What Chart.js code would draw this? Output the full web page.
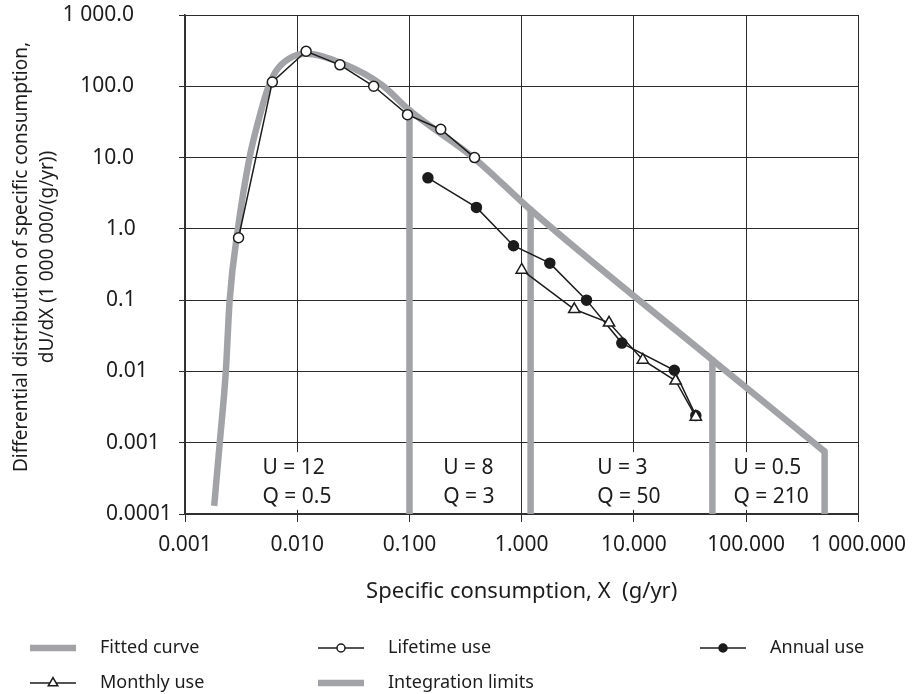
<!DOCTYPE html>
<html>
<head>
<meta charset="utf-8">
<script src="https://cdn.jsdelivr.net/npm/chart.js@4.4.1/dist/chart.umd.min.js"></script>
<style>
  html, body { margin: 0; padding: 0; background: #fff; }
  #wrap { position: relative; width: 916px; height: 694px; }
</style>
</head>
<body>
<div id="wrap"><canvas id="consumptionChart" width="916" height="694"></canvas></div>
<script>
// axis ticks
const xTickValues = [0.001, 0.01, 0.1, 1, 10, 100, 1000];
const xTickLabels = ['0.001', '0.010', '0.100', '1.000', '10.000', '100.000', '1 000.000'];
const yTickValues = [0.0001, 0.001, 0.01, 0.1, 1, 10, 100, 1000];
const yTickLabels = ['0.0001', '0.001', '0.01', '0.1', '1.0', '10.0', '100.0', '1 000.0'];

// fitted distribution
const fittedX = [0.00182, 0.00204, 0.00231, 0.0025, 0.00296, 0.00376, 0.0046, 0.0055, 0.0065, 0.0085, 0.012, 0.025, 0.057, 0.1, 0.386, 1.2, 50, 500];
const fittedY = [0.00013, 0.001, 0.01, 0.1, 1, 10, 37, 95, 165, 245, 285, 210, 104, 46, 9.5, 1.85, 0.0145, 0.00075];

// survey series
const lifetimeX = [0.003, 0.006, 0.012, 0.024, 0.048, 0.096, 0.19, 0.38];
const lifetimeY = [0.75, 115, 310, 200, 100, 40, 25, 10];
const annualX = [0.146, 0.395, 0.845, 1.78, 3.78, 7.8, 22.9, 35.6];
const annualY = [5.2, 2.0, 0.58, 0.33, 0.10, 0.025, 0.0104, 0.0024];
const monthlyX = [1.0, 2.94, 6.0, 12.0, 23.5, 35.6];
const monthlyY = [0.265, 0.0745, 0.048, 0.0145, 0.0074, 0.0023];

// integration limits (x, and the curve value where each one stops)
const limitX = [0.1, 1.2, 50, 500];
const limitTopY = [46, 1.85, 0.0145, 0.00075];

// band labels
const bandX = [0.0049, 0.2, 4.7, 77];
const bandU = ['U = 12', 'U = 8', 'U = 3', 'U = 0.5'];
const bandQ = ['Q = 0.5', 'Q = 3', 'Q = 50', 'Q = 210'];
const bandRowY = [0.00044, 0.000174];

const FONT = '"Noto Sans", "Open Sans", sans-serif';
const GREY = '#a2a3a7';
const INK = '#1c1c1c';

const zip = (xs, ys) => xs.map((x, i) => ({ x: x, y: ys[i] }));

const limitPoints = [];
limitX.forEach((x, i) => {
  limitPoints.push({ x: x, y: 0.0001 });
  limitPoints.push({ x: x, y: limitTopY[i] });
  limitPoints.push({ x: x, y: null });
});

// white boxes with the U / Q text in the lowest decade
const bandPlugin = {
  id: 'bands',
  beforeDatasetsDraw(chart) {
    const ctx = chart.ctx;
    const xs = chart.scales.x, ys = chart.scales.y;
    ctx.save();
    ctx.font = '21px ' + FONT;
    ctx.textBaseline = 'middle';
    ctx.textAlign = 'left';
    bandX.forEach((bx, i) => {
      const left = xs.getPixelForValue(bx);
      const y1 = ys.getPixelForValue(bandRowY[0]);
      const y2 = ys.getPixelForValue(bandRowY[1]);
      const w = Math.max(ctx.measureText(bandU[i]).width, ctx.measureText(bandQ[i]).width);
      ctx.fillStyle = '#fff';
      ctx.fillRect(left - 12, y1 - 16, w + 24, y2 - y1 + 29);
      ctx.fillStyle = INK;
      ctx.fillText(bandU[i], left, y1);
      ctx.fillText(bandQ[i], left, y2);
    });
    ctx.restore();
  }
};

// y tick labels, axis titles and legend
const textPlugin = {
  id: 'texts',
  afterDraw(chart) {
    const ctx = chart.ctx;
    const ys = chart.scales.y;
    const area = chart.chartArea;
    ctx.save();
    ctx.fillStyle = INK;
    ctx.font = '21px ' + FONT;
    ctx.textBaseline = 'middle';
    yTickValues.forEach((v, i) => {
      const py = ys.getPixelForValue(v);
      if (v >= 10) {
        ctx.textAlign = 'right';
        ctx.fillText(yTickLabels[i], 134, py);
      } else {
        ctx.textAlign = 'left';
        ctx.fillText(yTickLabels[i], 106, py);
      }
    });

    // y title, two lines
    ctx.font = '19px ' + FONT;
    ctx.textAlign = 'center';
    ctx.save();
    ctx.translate(22, 257);
    ctx.rotate(-Math.PI / 2);
    ctx.fillText('Differential distribution of specific consumption,', 0, 0);
    ctx.restore();
    ctx.save();
    ctx.translate(48, 257);
    ctx.rotate(-Math.PI / 2);
    ctx.fillText('dU/dX (1 000 000/(g/yr))', 0, 0);
    ctx.restore();

    // x title
    ctx.font = '22px ' + FONT;
    ctx.fillText('Specific consumption, X  (g/yr)', (area.left + area.right) / 2, 592);

    // legend
    ctx.font = '18px ' + FONT;
    const ds = chart.data.datasets;
    const slots = [
      { i: 0, x: 30, y: 648 }, { i: 2, x: 318, y: 648 }, { i: 3, x: 700, y: 648 },
      { i: 4, x: 30, y: 683 }, { i: 1, x: 318, y: 683 }
    ];
    ctx.textAlign = 'left';
    slots.forEach(s => {
      const d = ds[s.i];
      const len = 46;
      ctx.strokeStyle = d.borderColor;
      ctx.lineWidth = d.borderWidth;
      ctx.beginPath();
      ctx.moveTo(s.x, s.y);
      ctx.lineTo(s.x + len, s.y);
      ctx.stroke();
      if (d.pointRadius > 0) {
        ctx.fillStyle = d.pointBackgroundColor;
        ctx.strokeStyle = d.pointBorderColor;
        ctx.lineWidth = d.pointBorderWidth;
        Chart.helpers.drawPoint(ctx, {
          pointStyle: d.pointStyle, rotation: 0,
          radius: d.pointRadius - 1, borderWidth: d.pointBorderWidth
        }, s.x + len / 2, s.y);
      }
      ctx.fillStyle = INK;
      ctx.fillText(d.label, s.x + len + 24, s.y);
    });
    ctx.restore();
  }
};

new Chart(document.getElementById('consumptionChart'), {
  type: 'line',
  data: {
    datasets: [
      {
        label: 'Fitted curve',
        data: zip(fittedX, fittedY),
        borderColor: GREY, borderWidth: 6.5,
        pointRadius: 0, cubicInterpolationMode: 'monotone',
        order: 3
      },
      {
        label: 'Integration limits',
        data: limitPoints,
        borderColor: GREY, borderWidth: 6.5,
        pointRadius: 0, spanGaps: false, clip: 0,
        borderCapStyle: 'round',
        order: 3
      },
      {
        label: 'Lifetime use',
        data: zip(lifetimeX, lifetimeY),
        borderColor: INK, borderWidth: 1.5,
        pointStyle: 'circle', pointRadius: 5,
        pointBackgroundColor: '#fff', pointBorderColor: INK, pointBorderWidth: 1.5,
        order: 1
      },
      {
        label: 'Annual use',
        data: zip(annualX, annualY),
        borderColor: INK, borderWidth: 1.5,
        pointStyle: 'circle', pointRadius: 5,
        pointBackgroundColor: INK, pointBorderColor: INK, pointBorderWidth: 1.5,
        order: 1
      },
      {
        label: 'Monthly use',
        data: zip(monthlyX, monthlyY),
        borderColor: INK, borderWidth: 1.5,
        pointStyle: 'triangle', pointRadius: 6.5,
        pointBackgroundColor: '#fff', pointBorderColor: INK, pointBorderWidth: 1.5,
        order: 0
      }
    ]
  },
  options: {
    responsive: false,
    animation: false,
    devicePixelRatio: 1,
    layout: { padding: { top: 15, right: 53, bottom: 0, left: 0 } },
    plugins: { legend: { display: false }, tooltip: { enabled: false } },
    scales: {
      x: {
        type: 'logarithmic',
        min: 0.001, max: 1000,
        afterBuildTicks: s => { s.ticks = xTickValues.map(v => ({ value: v })); },
        afterFit: s => { s.height = 180; },
        ticks: {
          autoSkip: false, maxRotation: 0, padding: 10,
          color: INK, font: { family: FONT, size: 21 },
          callback: (v, i) => xTickLabels[i]
        },
        grid: { color: '#2b2b2b', lineWidth: 1, tickLength: 8 },
        border: { color: '#333', width: 1.5 }
      },
      y: {
        type: 'logarithmic',
        min: 0.0001, max: 1000,
        afterBuildTicks: s => { s.ticks = yTickValues.map(v => ({ value: v })); },
        afterFit: s => { s.width = 185; },
        ticks: { display: false },
        grid: { color: '#2b2b2b', lineWidth: 1, tickLength: 6 },
        border: { color: '#333', width: 1.5 }
      }
    }
  },
  plugins: [bandPlugin, textPlugin]
});
</script>
</body>
</html>
